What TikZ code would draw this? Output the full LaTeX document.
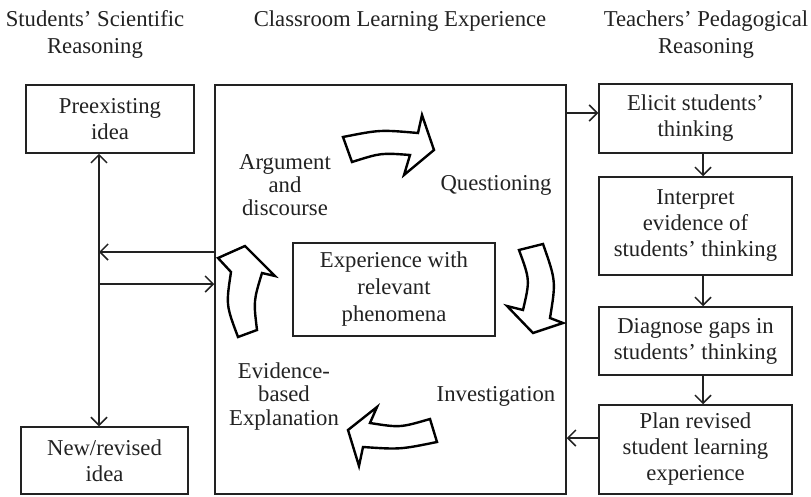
\documentclass[tikz,border=0pt]{standalone}
\usepackage{fontspec}
\setmainfont{Liberation Serif}
\usetikzlibrary{arrows.meta}
\definecolor{ink}{HTML}{222222}
\begin{document}
\begin{tikzpicture}[x=1pt,y=-1pt,
  every node/.style={font=\fontsize{22.7}{26}\selectfont, text=ink, align=center, inner sep=0pt},
  box/.style={draw=ink, line width=1.5pt},
  conn/.style={draw=ink, line width=1.5pt, -{Straight Barb[length=8pt,width=16pt,line width=1.5pt]}},
  conn2/.style={draw=ink, line width=1.5pt, {Straight Barb[length=8pt,width=16pt,line width=1.5pt]}-{Straight Barb[length=8pt,width=16pt,line width=1.5pt]}},
  blockarrow/.style={draw=black, line width=2.4pt, fill=white, line join=miter}
]
\useasboundingbox (0,0) rectangle (811,496);

% headers
\node[font=\fontsize{22.7}{27}\selectfont] (hl) at (95,34.5) {Students' Scientific\\Reasoning};
\node (hc) at (400,21) {Classroom Learning Experience};
\node[font=\fontsize{22.7}{27}\selectfont] (hr) at (706,34.5) {Teachers' Pedagogical\\Reasoning};

% left column
\node[box, minimum width=168pt, minimum height=68pt] (prev) at (110,119) {Preexisting\\idea};
\node[box, minimum width=167pt, minimum height=67pt] (new) at (104.5,460.5) {New/revised\\idea};

% classroom box
\node[box, minimum width=351pt, minimum height=409pt] (big) at (390.5,289.5) {};
\node[box, minimum width=202pt, minimum height=93pt, font=\fontsize{22.7}{27}\selectfont] (exp) at (394,289.5) {Experience with\\relevant\\phenomena};

% right column
\node[box, minimum width=193pt, minimum height=69pt] (elicit) at (695.5,118.5) {Elicit students'\\thinking};
\node[box, minimum width=193pt, minimum height=98pt] (interp) at (695.5,226) {Interpret\\evidence of\\students' thinking};
\node[box, minimum width=193pt, minimum height=68pt] (diag) at (695.5,341) {Diagnose gaps in\\students' thinking};
\node[box, minimum width=193pt, minimum height=89pt] (plan) at (695.5,449.5) {Plan revised\\student learning\\experience};

% labels in the cycle
\node[font=\fontsize{22.7}{23}\selectfont] (arg) at (285,185.5) {Argument\\and\\discourse};
\node (q) at (496,185) {Questioning};
\node (inv) at (496,396) {Investigation};
\node[font=\fontsize{22.7}{23.5}\selectfont] (ev) at (284,396.5) {Evidence-\\based\\Explanation};

% helper coordinates
\coordinate (vx) at (99,0);
\coordinate (ax) at (703,0);
\coordinate (yA) at (0,252);
\coordinate (yB) at (0,284);
\coordinate (yE) at (0,113);
\coordinate (yP) at (0,438);

% connectors
\draw[conn2] (prev.south -| vx) -- (new.north -| vx);
\draw[conn] (big.west |- yA) -- (vx |- yA);
\draw[conn] (vx |- yB) -- (big.west |- yB);
\draw[conn] (big.east |- yE) -- (elicit.west |- yE);
\draw[conn] (elicit.south -| ax) -- (interp.north -| ax);
\draw[conn] (interp.south -| ax) -- (diag.north -| ax);
\draw[conn] (diag.south -| ax) -- (plan.north -| ax);
\draw[conn] (plan.west |- yP) -- (big.east |- yP);

% curved block arrows
\draw[blockarrow] (343,137) .. controls (380,129.7) .. (418,133) -- (422,115) -- (434,150)
  -- (404,175) -- (410,155) .. controls (381,152.8) .. (352,162) -- cycle;
\draw[blockarrow] (519,250) -- (543,244) .. controls (556,281) .. (550,318) -- (563,323)
  -- (533,333) -- (507,306) -- (523,310) .. controls (530,280) .. cycle;
\draw[blockarrow] (437,442) -- (430,419) .. controls (400,427.7) .. (370,423) -- (377,407)
  -- (348,430) -- (359,466) -- (363,447) .. controls (400,449.5) .. cycle;
\draw[blockarrow] (238,337) -- (257,330) .. controls (253.5,301) .. (262,273) -- (275,276)
  -- (245,246) -- (218,258) -- (231,272) .. controls (226,305) .. cycle;
\end{tikzpicture}
\end{document}
